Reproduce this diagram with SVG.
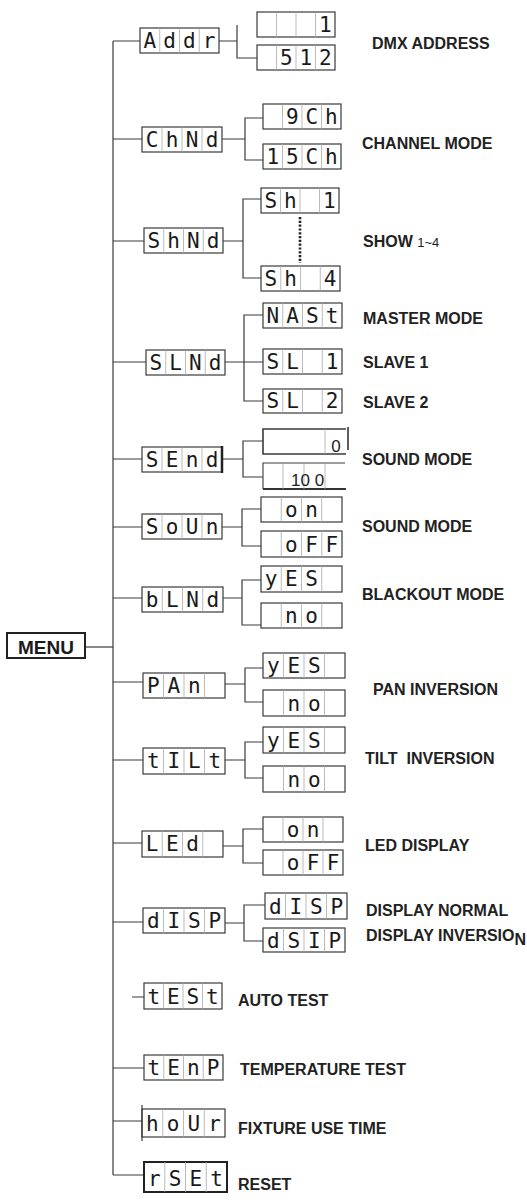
<svg xmlns="http://www.w3.org/2000/svg" width="527" height="1200" viewBox="0 0 527 1200">
<style>
.bx{fill:#fff;stroke:#3a3a3a;stroke-width:1.2}
.dv{stroke:#aaa;stroke-width:0.8}
.w{stroke:#3a3a3a;stroke-width:1.2;fill:none}
.seg{font-family:"DejaVu Sans Mono",monospace;font-size:21px;fill:#1a1a1a;text-anchor:middle}
.lbl{font-family:"Liberation Sans",Arial,sans-serif;font-weight:bold;font-size:16px;fill:#222;white-space:pre}
.num{font-family:"Liberation Sans",Arial,sans-serif;font-size:17px;fill:#222}
</style>
<defs>
<g id="c80"><line class="dv" x1="20" y1="0" x2="20" y2="25"/><line class="dv" x1="40" y1="0" x2="40" y2="25"/><line class="dv" x1="60" y1="0" x2="60" y2="25"/></g>
</defs>
<rect width="527" height="1200" fill="#fff"/>

<g id="connectors">
<line class="w" x1="113" y1="41" x2="113" y2="1175"/>
<line class="w" x1="85" y1="647" x2="113" y2="647"/>
<path class="w" d="M113 41H140M113 139H142M113 241H144M113 362H146M113 459H142M113 527H142M113 598H142M113 682H143M113 760H143M113 843H142M113 922H143M132 997H144M113 1068H144M113 1121H142M113 1175H144"/>
<path class="w" d="M219 41H237M237 25V58H257"/>
<path class="w" d="M222 139H245M263 118H245V160H263"/>
<path class="w" d="M223 241H243M261 199H243V278H261"/>
<line x1="300" y1="217" x2="300" y2="263" stroke="#222" stroke-width="2.6" stroke-dasharray="2.2,1.6"/>
<path class="w" d="M225 362H263M263 315H244V401H263"/>
<path class="w" d="M222 459H243M263 441H243V477H263"/>
<path class="w" d="M222 527H242M261 509H242V546H261"/>
<path class="w" d="M223 598H242M261 580H242V625H261"/>
<path class="w" d="M225 684H245M263 668H245V702H263"/>
<path class="w" d="M225 760H245M263 742H245V778H263"/>
<path class="w" d="M223 846H243M263 829H243V863H263"/>
<path class="w" d="M225 923H244M265 905H244V941H263"/>
</g>

<g id="menu">
<rect x="7" y="633" width="78" height="25" fill="#fff" stroke="#222" stroke-width="2"/>
<text x="46" y="654" text-anchor="middle" style="font-family:'Liberation Sans',Arial,sans-serif;font-weight:bold;font-size:19px;fill:#1a1a1a">MENU</text>
</g>

<g id="addr">
<rect class="bx" x="140" y="28" width="79" height="25"/>
<line class="dv" x1="159.75" y1="28" x2="159.75" y2="53"/><line class="dv" x1="179.5" y1="28" x2="179.5" y2="53"/><line class="dv" x1="199.25" y1="28" x2="199.25" y2="53"/>
<text class="seg" x="149.9 169.6 189.4 209.1" y="48">Addr</text>
<rect class="bx" x="257" y="12" width="78" height="25"/>
<line class="dv" x1="276.5" y1="12" x2="276.5" y2="37"/><line class="dv" x1="296" y1="12" x2="296" y2="37"/><line class="dv" x1="315.5" y1="12" x2="315.5" y2="37"/>
<text class="seg" x="325.25" y="32">1</text>
<rect class="bx" x="257" y="45" width="78" height="25"/>
<line class="dv" x1="276.5" y1="45" x2="276.5" y2="70"/><line class="dv" x1="296" y1="45" x2="296" y2="70"/><line class="dv" x1="315.5" y1="45" x2="315.5" y2="70"/>
<text class="seg" x="286.25 305.75 325.25" y="65">512</text>
<text class="lbl" x="372" y="49">DMX ADDRESS</text>
</g>

<g id="chnd">
<rect class="bx" x="142" y="127" width="80" height="25"/>
<use href="#c80" x="142" y="127"/>
<text class="seg" x="152 172 192 212" y="147">ChNd</text>
<rect class="bx" x="263" y="104" width="78" height="25"/>
<line class="dv" x1="282.5" y1="104" x2="282.5" y2="129"/><line class="dv" x1="302" y1="104" x2="302" y2="129"/><line class="dv" x1="321.5" y1="104" x2="321.5" y2="129"/>
<text class="seg" x="292.25 311.75 331.25" y="124">9Ch</text>
<rect class="bx" x="263" y="144" width="78" height="25"/>
<line class="dv" x1="282.5" y1="144" x2="282.5" y2="169"/><line class="dv" x1="302" y1="144" x2="302" y2="169"/><line class="dv" x1="321.5" y1="144" x2="321.5" y2="169"/>
<text class="seg" x="272.75 292.25 311.75 331.25" y="164">15Ch</text>
<text class="lbl" x="362" y="149">CHANNEL MODE</text>
</g>

<g id="shnd">
<rect class="bx" x="144" y="228" width="79" height="25"/>
<line class="dv" x1="163.75" y1="228" x2="163.75" y2="253"/><line class="dv" x1="183.5" y1="228" x2="183.5" y2="253"/><line class="dv" x1="203.25" y1="228" x2="203.25" y2="253"/>
<text class="seg" x="153.9 173.6 193.4 213.1" y="248">ShNd</text>
<rect class="bx" x="261" y="188" width="78" height="25"/>
<line class="dv" x1="280.5" y1="188" x2="280.5" y2="213"/><line class="dv" x1="300" y1="188" x2="300" y2="213"/><line class="dv" x1="319.5" y1="188" x2="319.5" y2="213"/>
<text class="seg" x="270.75 290.25 329.25" y="208">Sh1</text>
<rect class="bx" x="261" y="266" width="79" height="25"/>
<line class="dv" x1="280.75" y1="266" x2="280.75" y2="291"/><line class="dv" x1="300.5" y1="266" x2="300.5" y2="291"/><line class="dv" x1="320.25" y1="266" x2="320.25" y2="291"/>
<text class="seg" x="270.9 290.6 330.1" y="286">Sh4</text>
<text class="lbl" x="363" y="247">SHOW <tspan style="font-weight:normal;font-size:13px">1~4</tspan></text>
</g>

<g id="slnd">
<rect class="bx" x="146" y="350" width="79" height="25"/>
<line class="dv" x1="165.75" y1="350" x2="165.75" y2="375"/><line class="dv" x1="185.5" y1="350" x2="185.5" y2="375"/><line class="dv" x1="205.25" y1="350" x2="205.25" y2="375"/>
<text class="seg" x="155.9 175.6 195.4 215.1" y="370">SLNd</text>
<rect class="bx" x="263" y="303" width="79" height="25"/>
<line class="dv" x1="282.75" y1="303" x2="282.75" y2="328"/><line class="dv" x1="302.5" y1="303" x2="302.5" y2="328"/><line class="dv" x1="322.25" y1="303" x2="322.25" y2="328"/>
<text class="seg" x="272.9 292.6 312.4 332.1" y="323">NASt</text>
<rect class="bx" x="263" y="349" width="79" height="25"/>
<line class="dv" x1="282.75" y1="349" x2="282.75" y2="374"/><line class="dv" x1="302.5" y1="349" x2="302.5" y2="374"/><line class="dv" x1="322.25" y1="349" x2="322.25" y2="374"/>
<text class="seg" x="272.9 292.6 332.1" y="369">SL1</text>
<rect class="bx" x="263" y="389" width="79" height="24"/>
<line class="dv" x1="282.75" y1="389" x2="282.75" y2="413"/><line class="dv" x1="302.5" y1="389" x2="302.5" y2="413"/><line class="dv" x1="322.25" y1="389" x2="322.25" y2="413"/>
<text class="seg" x="272.9 292.6 332.1" y="408">SL2</text>
<text class="lbl" x="363" y="324">MASTER MODE</text>
<text class="lbl" x="363" y="368">SLAVE 1</text>
<text class="lbl" x="363" y="408">SLAVE 2</text>
</g>

<g id="send">
<rect class="bx" x="142" y="447" width="80" height="25"/>
<use href="#c80" x="142" y="447"/>
<line x1="222" y1="446" x2="222" y2="473" stroke="#222" stroke-width="2.5"/>
<text class="seg" x="152 172 192 212" y="467">SEnd</text>
<path d="M346 429H263V454H346" fill="none" stroke="#3a3a3a" stroke-width="1.6"/>
<line class="dv" x1="325" y1="429" x2="325" y2="454"/>
<line x1="348" y1="427" x2="348" y2="450" stroke="#333" stroke-width="1.6"/>
<text class="num" x="336" y="452" text-anchor="middle">0</text>
<path d="M345 463H263V489" fill="none" stroke="#3a3a3a" stroke-width="1.1"/>
<line x1="263" y1="489" x2="346" y2="489" stroke="#333" stroke-width="1.8"/>
<line class="dv" x1="283" y1="463" x2="283" y2="489"/><line class="dv" x1="304" y1="463" x2="304" y2="489"/><line class="dv" x1="325" y1="463" x2="325" y2="489"/>
<text class="num" x="291" y="486" style="white-space:pre">10 0</text>
<text class="lbl" x="362" y="465">SOUND MODE</text>
</g>

<g id="soun">
<rect class="bx" x="142" y="514" width="80" height="25"/>
<use href="#c80" x="142" y="514"/>
<text class="seg" x="152 172 192 212" y="534">SoUn</text>
<rect class="bx" x="261" y="497" width="81" height="25"/>
<line class="dv" x1="281.25" y1="497" x2="281.25" y2="522"/><line class="dv" x1="301.5" y1="497" x2="301.5" y2="522"/><line class="dv" x1="321.75" y1="497" x2="321.75" y2="522"/>
<text class="seg" x="291.4 311.6" y="517">on</text>
<rect class="bx" x="261" y="531" width="81" height="26"/>
<line class="dv" x1="281.25" y1="531" x2="281.25" y2="557"/><line class="dv" x1="301.5" y1="531" x2="301.5" y2="557"/><line class="dv" x1="321.75" y1="531" x2="321.75" y2="557"/>
<text class="seg" x="291.4 311.6 331.9" y="552">oFF</text>
<text class="lbl" x="362" y="532">SOUND MODE</text>
</g>

<g id="blnd">
<rect class="bx" x="142" y="587" width="81" height="25"/>
<line class="dv" x1="162.25" y1="587" x2="162.25" y2="612"/><line class="dv" x1="182.5" y1="587" x2="182.5" y2="612"/><line class="dv" x1="202.75" y1="587" x2="202.75" y2="612"/>
<text class="seg" x="152.1 172.4 192.6 212.9" y="607">bLNd</text>
<rect class="bx" x="261" y="566" width="81" height="26"/>
<line class="dv" x1="281.25" y1="566" x2="281.25" y2="592"/><line class="dv" x1="301.5" y1="566" x2="301.5" y2="592"/><line class="dv" x1="321.75" y1="566" x2="321.75" y2="592"/>
<text class="seg" x="271.1 291.4 311.6" y="586">yES</text>
<rect class="bx" x="261" y="603" width="81" height="25"/>
<line class="dv" x1="281.25" y1="603" x2="281.25" y2="628"/><line class="dv" x1="301.5" y1="603" x2="301.5" y2="628"/><line class="dv" x1="321.75" y1="603" x2="321.75" y2="628"/>
<text class="seg" x="291.4 311.6" y="623">no</text>
<text class="lbl" x="362" y="600">BLACKOUT MODE</text>
</g>

<g id="pan">
<rect class="bx" x="143" y="673" width="82" height="25"/>
<line class="dv" x1="163.5" y1="673" x2="163.5" y2="698"/><line class="dv" x1="184" y1="673" x2="184" y2="698"/><line class="dv" x1="204.5" y1="673" x2="204.5" y2="698"/>
<text class="seg" x="153.25 173.75 194.25" y="693">PAn</text>
<rect class="bx" x="263" y="653" width="82" height="25"/>
<line class="dv" x1="283.5" y1="653" x2="283.5" y2="678"/><line class="dv" x1="304" y1="653" x2="304" y2="678"/><line class="dv" x1="324.5" y1="653" x2="324.5" y2="678"/>
<text class="seg" x="273.25 293.75 314.25" y="673">yES</text>
<rect class="bx" x="263" y="690" width="82" height="26"/>
<line class="dv" x1="283.5" y1="690" x2="283.5" y2="716"/><line class="dv" x1="304" y1="690" x2="304" y2="716"/><line class="dv" x1="324.5" y1="690" x2="324.5" y2="716"/>
<text class="seg" x="293.75 314.25" y="711">no</text>
<text class="lbl" x="373" y="695">PAN INVERSION</text>
</g>

<g id="tilt">
<rect class="bx" x="143" y="748" width="82" height="26"/>
<line class="dv" x1="163.5" y1="748" x2="163.5" y2="774"/><line class="dv" x1="184" y1="748" x2="184" y2="774"/><line class="dv" x1="204.5" y1="748" x2="204.5" y2="774"/>
<text class="seg" x="153.25 173.75 194.25 214.75" y="768">tILt</text>
<rect class="bx" x="263" y="727" width="82" height="26"/>
<line class="dv" x1="283.5" y1="727" x2="283.5" y2="753"/><line class="dv" x1="304" y1="727" x2="304" y2="753"/><line class="dv" x1="324.5" y1="727" x2="324.5" y2="753"/>
<text class="seg" x="273.25 293.75 314.25" y="748">yES</text>
<rect class="bx" x="263" y="766" width="82" height="26"/>
<line class="dv" x1="283.5" y1="766" x2="283.5" y2="792"/><line class="dv" x1="304" y1="766" x2="304" y2="792"/><line class="dv" x1="324.5" y1="766" x2="324.5" y2="792"/>
<text class="seg" x="293.75 314.25" y="787">no</text>
<text class="lbl" x="365" y="764">TILT  INVERSION</text>
</g>

<g id="led">
<rect class="bx" x="142" y="831" width="81" height="26"/>
<line class="dv" x1="162.25" y1="831" x2="162.25" y2="857"/><line class="dv" x1="182.5" y1="831" x2="182.5" y2="857"/><line class="dv" x1="202.75" y1="831" x2="202.75" y2="857"/>
<text class="seg" x="152.1 172.4 192.6" y="851">LEd</text>
<rect class="bx" x="263" y="817" width="80" height="25"/>
<line class="dv" x1="283" y1="817" x2="283" y2="842"/><line class="dv" x1="303" y1="817" x2="303" y2="842"/><line class="dv" x1="323" y1="817" x2="323" y2="842"/>
<text class="seg" x="293 313" y="837">on</text>
<rect class="bx" x="263" y="850" width="80" height="25"/>
<line class="dv" x1="283" y1="850" x2="283" y2="875"/><line class="dv" x1="303" y1="850" x2="303" y2="875"/><line class="dv" x1="323" y1="850" x2="323" y2="875"/>
<text class="seg" x="293 313 333" y="870">oFF</text>
<text class="lbl" x="365" y="851">LED DISPLAY</text>
</g>

<g id="disp">
<rect class="bx" x="143" y="908" width="82" height="25"/>
<line class="dv" x1="163.5" y1="908" x2="163.5" y2="933"/><line class="dv" x1="184" y1="908" x2="184" y2="933"/><line class="dv" x1="204.5" y1="908" x2="204.5" y2="933"/>
<text class="seg" x="153.25 173.75 194.25 214.75" y="928">dISP</text>
<rect class="bx" x="265" y="893" width="82" height="26"/>
<line class="dv" x1="285.5" y1="893" x2="285.5" y2="919"/><line class="dv" x1="306" y1="893" x2="306" y2="919"/><line class="dv" x1="326.5" y1="893" x2="326.5" y2="919"/>
<text class="seg" x="275.25 295.75 316.25 336.75" y="914">dISP</text>
<rect class="bx" x="263" y="928" width="82" height="24"/>
<line class="dv" x1="283.5" y1="928" x2="283.5" y2="952"/><line class="dv" x1="304" y1="928" x2="304" y2="952"/><line class="dv" x1="324.5" y1="928" x2="324.5" y2="952"/>
<text class="seg" x="273.25 293.75 314.25 334.75" y="948">dSIP</text>
<text class="lbl" x="366" y="916">DISPLAY NORMAL</text>
<text class="lbl" x="366" y="941">DISPLAY INVERSIO<tspan dy="4">N</tspan></text>
</g>

<g id="test">
<rect class="bx" x="144" y="983" width="78" height="26"/>
<line class="dv" x1="163.5" y1="983" x2="163.5" y2="1009"/><line class="dv" x1="183" y1="983" x2="183" y2="1009"/><line class="dv" x1="202.5" y1="983" x2="202.5" y2="1009"/>
<text class="seg" x="153.75 173.25 192.75 212.25" y="1004">tESt</text>
<text class="lbl" x="238" y="1006">AUTO TEST</text>
</g>

<g id="temp">
<rect class="bx" x="144" y="1055" width="79" height="25"/>
<line class="dv" x1="163.75" y1="1055" x2="163.75" y2="1080"/><line class="dv" x1="183.5" y1="1055" x2="183.5" y2="1080"/><line class="dv" x1="203.25" y1="1055" x2="203.25" y2="1080"/>
<text class="seg" x="153.9 173.6 193.4 213.1" y="1075">tEnP</text>
<text class="lbl" x="240" y="1075">TEMPERATURE TEST</text>
</g>

<g id="hour">
<rect class="bx" x="142" y="1109" width="83" height="28"/>
<line class="dv" x1="162.75" y1="1109" x2="162.75" y2="1137"/><line class="dv" x1="183.5" y1="1109" x2="183.5" y2="1137"/><line class="dv" x1="204.25" y1="1109" x2="204.25" y2="1137"/>
<line class="w" x1="142" y1="1105" x2="142" y2="1141"/>
<text class="seg" x="152.4 173.1 193.9 214.6" y="1131">hoUr</text>
<text class="lbl" x="238" y="1134">FIXTURE USE TIME</text>
</g>

<g id="rset">
<rect x="144" y="1162" width="83" height="30" fill="#fff" stroke="#222" stroke-width="2"/>
<line class="dv" x1="164.75" y1="1162" x2="164.75" y2="1192"/><line class="dv" x1="185.5" y1="1162" x2="185.5" y2="1192"/><line class="dv" x1="206.25" y1="1162" x2="206.25" y2="1192"/>
<text class="seg" x="154.4 175.1 195.9 216.6" y="1186">rSEt</text>
<text class="lbl" x="238" y="1190">RESET</text>
</g>
</svg>
